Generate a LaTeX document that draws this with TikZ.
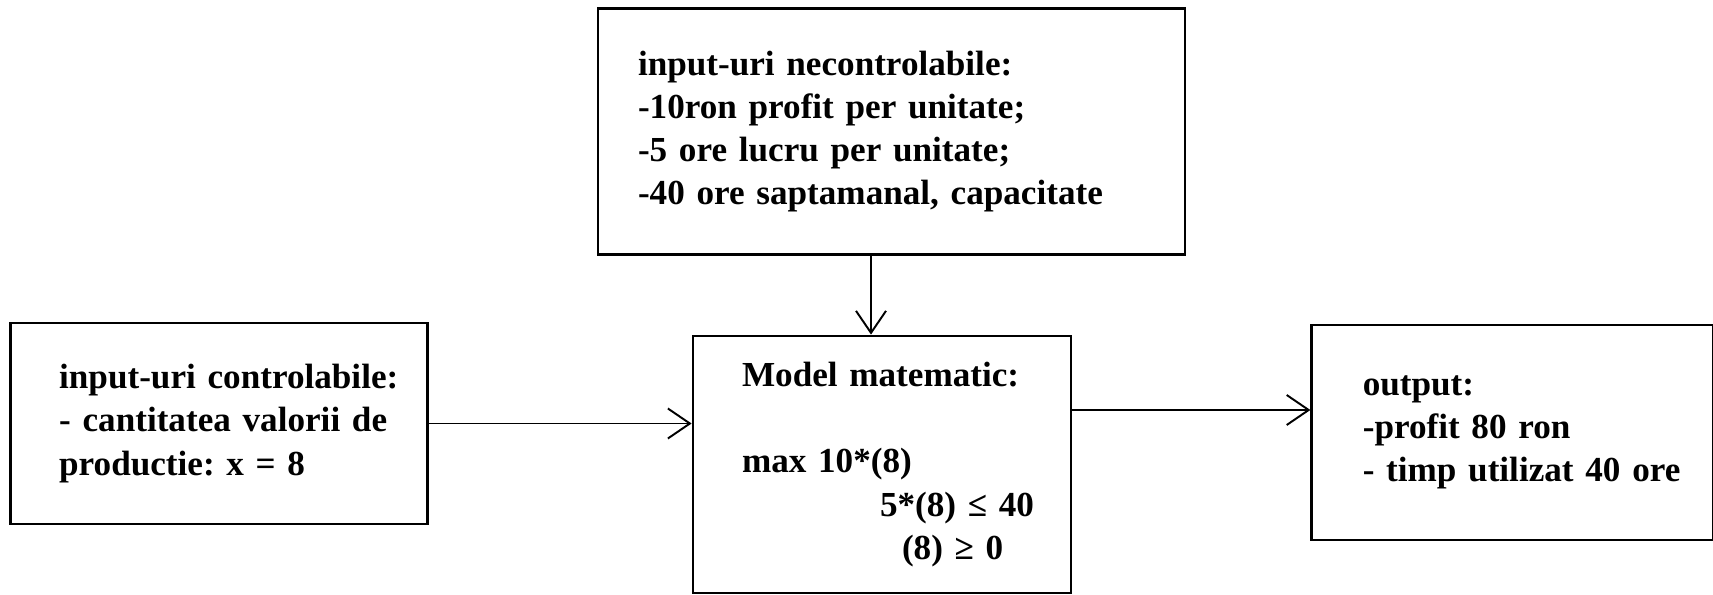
\documentclass[tikz,border=0pt]{standalone}
\usepackage{fontspec}
\setmainfont{Liberation Serif}
\usetikzlibrary{positioning,arrows.meta}
\frenchspacing
\hyphenpenalty=10000

\begin{document}
\begin{tikzpicture}[font=\bfseries\fontsize{20}{24.5}\selectfont,
      >={Straight Barb[length=4.4mm, width=6mm]},
      bloc/.style={draw, line width=1.6pt, align=left, inner xsep=0.3cm, inner ysep=0pt,
                   execute at begin node={\leftskip=#1\relax}}]
  \useasboundingbox (0,0) rectangle (34.26,-11.9);
  \node[bloc=0.68cm, text width=6.96cm, minimum height=5.14cm] (model) at (17.64,-9.29)
    {Model matematic:\\[24.5pt]
     max 10*(8)\\
     \hspace*{2.76cm}5*(8) ≤ 40\\
     \hspace*{3.2cm}(8) ≥ 0};
  \node[bloc=0.5cm, text width=11.14cm, minimum height=4.92cm,
        above=1.58cm of model, xshift=0.19cm] (necontrol)
    {input-uri necontrolabile:\\
     -10ron profit per unitate;\\
     -5 ore lucru per unitate;\\
     -40 ore saptamanal, capacitate};
  \node[bloc=0.68cm, text width=7.74cm, minimum height=4.02cm,
        left=5.26cm of model, yshift=0.82cm] (control)
    {input-uri controlabile:\\
     - cantitatea valorii de\\
     productie: x = 8};
  \node[bloc=0.72cm, text width=7.44cm, minimum height=4.3cm,
        right=4.76cm of model, yshift=0.64cm] (output)
    {output:\\
     -profit 80 ron\\
     - timp utilizat 40 ore};
  \draw[->, line width=1.1pt] ([xshift=-0.22cm]model.north |- necontrol.south) -- ([xshift=-0.22cm]model.north);
  \draw[->, line width=1.1pt] (control.east) -- (control.east -| model.west);
  \draw[->, line width=1.1pt] ([yshift=0.45cm]output.west -| model.east) -- ([yshift=0.45cm]output.west);
\end{tikzpicture}
\end{document}
